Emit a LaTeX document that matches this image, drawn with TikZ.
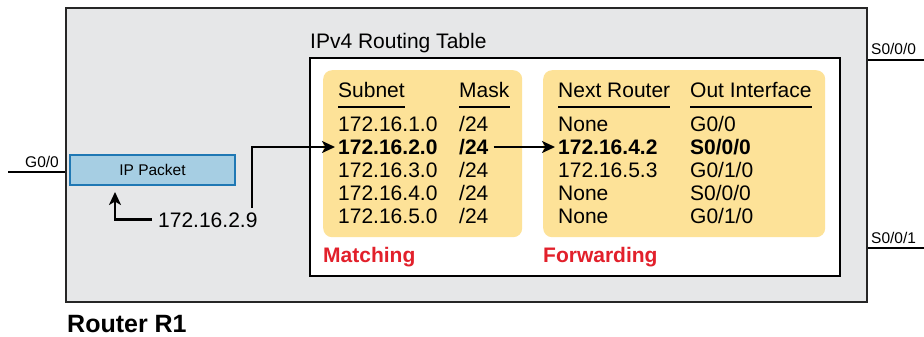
\documentclass[tikz,border=0pt]{standalone}
\usepackage{fontspec}
\setmainfont{Liberation Sans}
\usetikzlibrary{arrows.meta}
\definecolor{routergray}{RGB}{230,231,232}
\definecolor{tabyellow}{RGB}{253,226,152}
\definecolor{pktfill}{RGB}{166,206,227}
\definecolor{pktdraw}{RGB}{31,120,180}
\definecolor{lblred}{RGB}{226,32,43}
\begin{document}
\begin{tikzpicture}[x=1pt,y=-1pt,
  box/.style={draw=black!85,line width=2pt,inner sep=0pt,anchor=north west},
  yel/.style={fill=tabyellow,rounded corners=9pt,inner sep=0pt,anchor=north west},
  tx/.style={inner sep=0pt,anchor=base west,text height=15pt,text depth=0pt,font=\fontsize{21}{25}\selectfont},
  txb/.style={tx,font=\fontsize{21}{25}\selectfont\bfseries},
  lbl/.style={inner sep=0pt,anchor=base west,font=\fontsize{15.5}{18}\selectfont},
  conn/.style={line width=2.3pt},
  arr/.style={conn,-{Stealth[length=13pt,width=12pt,inset=3.5pt]}},
  ul/.style={line width=1.5pt}
]
\useasboundingbox (0,0) rectangle (924,337);
% router
\node[box,fill=routergray,minimum width=801pt,minimum height=294pt] (router) at (65,7) {};
\node[inner sep=0pt,anchor=base west,font=\fontsize{25}{30}\selectfont\bfseries] (rname) at (67,332.5) {Router R1};
% interfaces
\coordinate (g0) at (8,172);
\coordinate (s0) at (924,60);
\coordinate (s1) at (924,248);
\draw[conn] (g0) -- (g0 -| router.west);
\draw[conn] (router.east |- s0) -- (s0);
\draw[conn] (router.east |- s1) -- (s1);
\node[lbl] (lg0) at (25,167) {G0/0};
\node[lbl] (ls0) at (871,55) {S0/0/0};
\node[lbl] (ls1) at (871,243) {S0/0/1};
% routing table
\node[box,draw=black,fill=white,minimum width=530pt,minimum height=218pt] (table) at (309,57) {};
\node[tx,text height=14pt] (ttitle) at (310,48.5) {IPv4 Routing Table};
\node[yel,minimum width=199pt,minimum height=167pt] (ymatch) at (323,70) {};
\node[yel,minimum width=282pt,minimum height=167pt] (yfwd) at (543,70) {};
% headers
\node[tx] (h1) at (338,98) {Subnet};
\node[tx] (h2) at (459,98) {Mask};
\node[tx] (h3) at (558,98) {Next Router};
\node[tx] (h4) at (690,98) {Out Interface};
\foreach \h in {h1,h2,h3,h4}
  \draw[ul] ([yshift=-9pt]\h.south west) -- ([yshift=-9pt]\h.south east);
% rows
\node[tx]  (s1r) at (338,131.5) {172.16.1.0};
\node[txb] (s2r) at (338,154.5) {172.16.2.0};
\node[tx]  (s3r) at (338,177.5) {172.16.3.0};
\node[tx]  (s4r) at (338,200.5) {172.16.4.0};
\node[tx]  (s5r) at (338,223.5) {172.16.5.0};
\node[tx]  (m1) at (459,131.5) {/24};
\node[txb] (m2) at (459,154.5) {/24};
\node[tx]  (m3) at (459,177.5) {/24};
\node[tx]  (m4) at (459,200.5) {/24};
\node[tx]  (m5) at (459,223.5) {/24};
\node[tx]  (n1) at (558,131.5) {None};
\node[txb] (n2) at (558,154.5) {172.16.4.2};
\node[tx]  (n3) at (558,177.5) {172.16.5.3};
\node[tx]  (n4) at (558,200.5) {None};
\node[tx]  (n5) at (558,223.5) {None};
\node[tx]  (o1) at (690,131.5) {G0/0};
\node[txb] (o2) at (690,154.5) {S0/0/0};
\node[tx]  (o3) at (690,177.5) {G0/1/0};
\node[tx]  (o4) at (690,200.5) {S0/0/0};
\node[tx]  (o5) at (690,223.5) {G0/1/0};
\node[txb,text=lblred] (lmatch) at (323,262) {Matching};
\node[txb,text=lblred] (lfwd) at (543,262) {Forwarding};
% packet
\node[draw=pktdraw,fill=pktfill,line width=2pt,inner sep=0pt,anchor=north west,
      minimum width=165pt,minimum height=30pt,font=\fontsize{15.5}{18}\selectfont] (pkt) at (69,154) {IP Packet};
\node[tx] (addr) at (158,227) {172.16.2.9};
% connectors
\coordinate (tipA) at (115,192);
\draw[arr] ([xshift=-6pt]addr.west) -| (tipA);
\draw[arr] ([xshift=-6pt,yshift=4pt]addr.north east) |- ([xshift=-3pt]s2r.west);
\draw[arr] ([xshift=5pt]m2.east) -- ([xshift=-3pt]n2.west);
\end{tikzpicture}
\end{document}
